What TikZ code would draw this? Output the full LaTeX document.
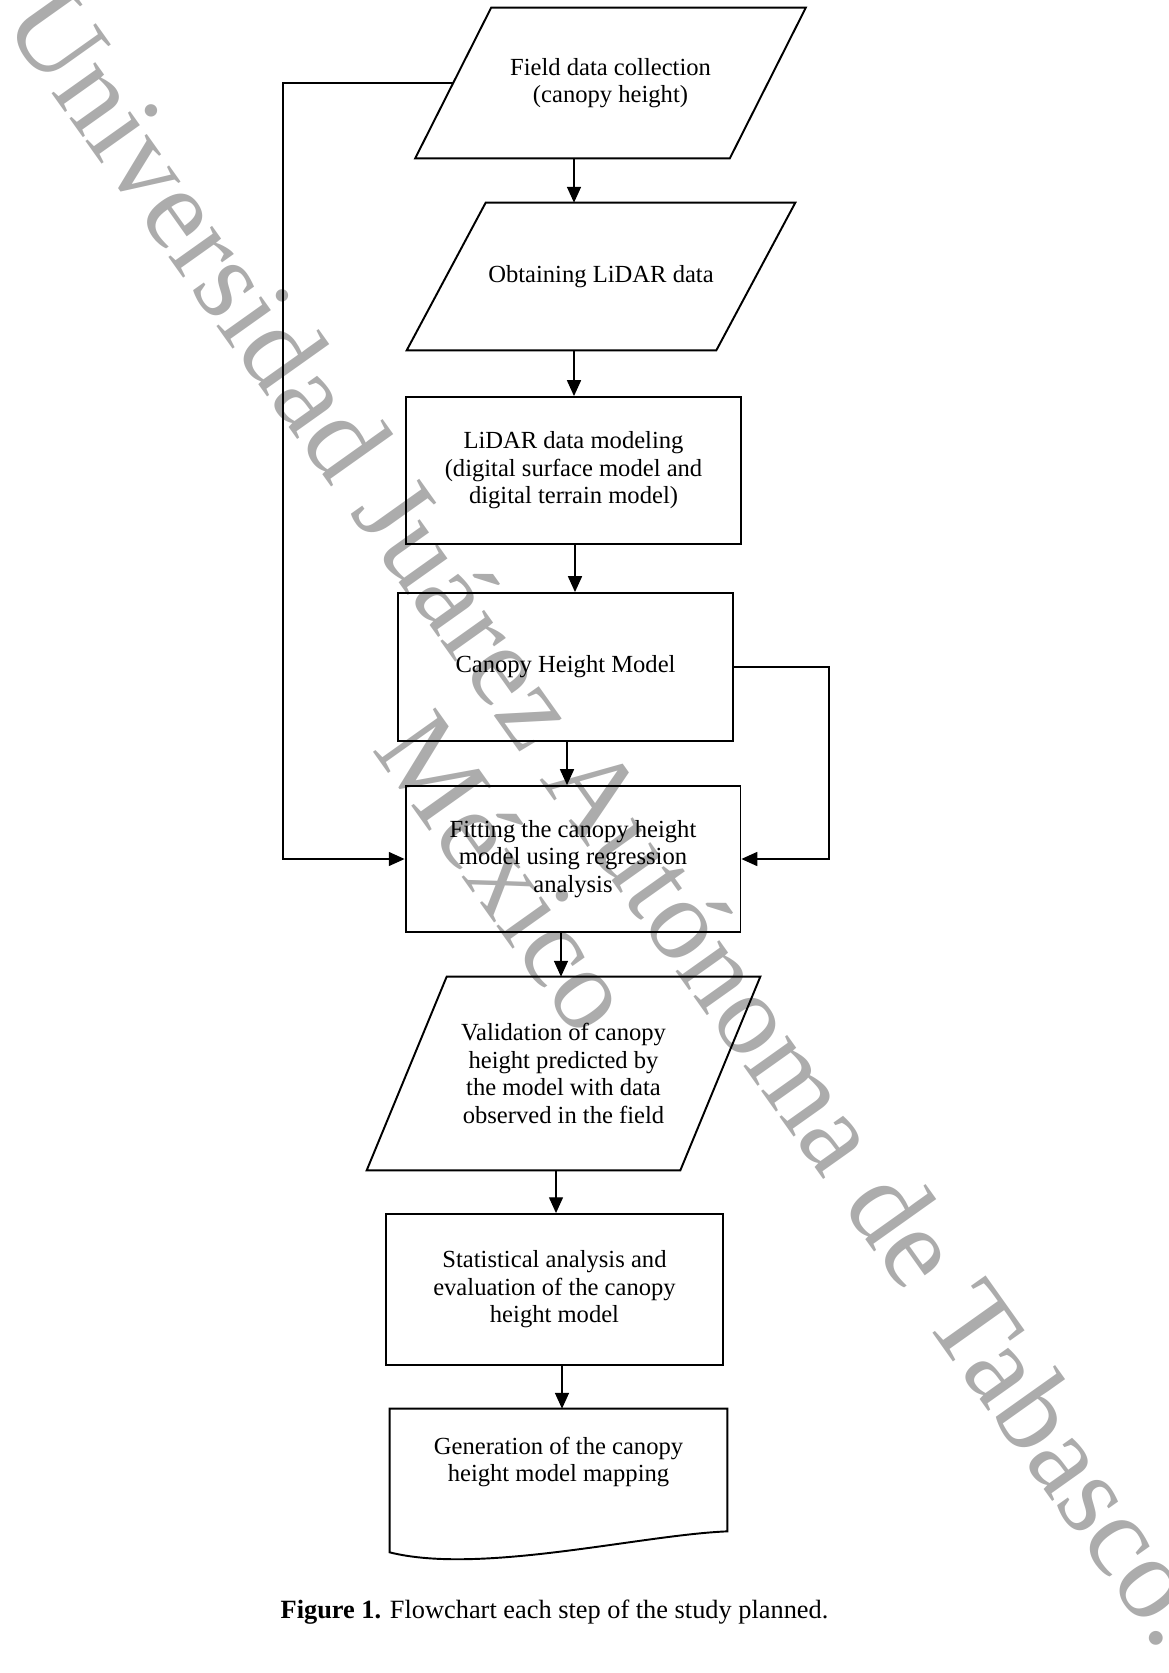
\documentclass[tikz,border=0pt]{standalone}
\usepackage{fontspec}
\setmainfont{Liberation Serif}
\usetikzlibrary{arrows.meta}
\definecolor{wmgray}{RGB}{172,172,172}

\begin{document}
\begin{tikzpicture}[x=0.02cm,y=-0.02cm,>={Triangle[length=9pt,width=8pt]},
   box/.style={line width=1.1pt},
   proc/.style={rectangle,draw,box,minimum width=6.7cm,minimum height=2.94cm,align=center,font=\fontsize{14pt}{15.7pt}\selectfont},
   iobox/.style={rectangle,align=center,font=\fontsize{14pt}{15.7pt}\selectfont},
   link/.style={->,line width=0.7pt},
   wm/.style={text=wmgray,rotate=-54.6,anchor=base,inner sep=0pt,font=\fontsize{66.5pt}{78pt}\selectfont}]
   \useasboundingbox (0,0) rectangle (1169,1673);

   % watermark behind the chart
   \node[wm] (wmark) at (581,838) {Universidad Juárez Autónoma de Tabasco.};
   \node[wm] (wcountry) at (475,895) {México};

   \node[iobox,minimum width=6.28cm,minimum height=3cm]    (field) at (610.5,83)     {Field data collection\\(canopy height)};
   \node[iobox,minimum width=6.18cm,minimum height=2.94cm] (lidar) at (601,276.5)    {Obtaining LiDAR data};
   \node[proc]                                             (dtm)   at (573.5,470.5)  {LiDAR data modeling\\(digital surface model and\\digital terrain model)};
   \node[proc,minimum height=2.96cm]                       (chm)   at (565.5,667)    {Canopy Height Model};
   \node[proc,minimum height=2.92cm]                       (fit)   at (573,859)      {Fitting the canopy height\\model using regression\\analysis};
   \node[iobox,minimum width=6.26cm,minimum height=3.86cm] (valid) at (563.5,1073.5) {Validation of canopy\\height predicted by\\the model with data\\observed in the field};
   \node[proc,minimum width=6.74cm,minimum height=3.02cm]  (stats) at (554.5,1289.5) {Statistical analysis and\\evaluation of the canopy\\height model};
   \node[iobox,minimum width=6.74cm,minimum height=2.12cm] (map)   at (558.5,1462)   {Generation of the canopy\\height model mapping};

   % data boxes
   \foreach \n/\s in {field/0.76cm,lidar/0.79cm,valid/0.8cm}
      \draw[box] ([xshift=\s]\n.north west) -- ([xshift=\s]\n.north east)
         -- ([xshift=-\s]\n.south east) -- ([xshift=-\s]\n.south west) -- cycle;

   % document box
   \draw[box] (map.north west) -- (map.north east) -- ([yshift=-0.32cm]map.south east)
      .. controls (640,1535) and (480,1575) .. ([yshift=-0.74cm]map.south west) -- cycle;

   \foreach \a/\b/\x in {field/lidar/574,lidar/dtm/574,dtm/chm/575,chm/fit/567,fit/valid/561,valid/stats/556,stats/map/562}
      \draw[link] (\a.south -| \x,0) -- (\b.north -| \x,0);

   \coordinate (lft) at (283,0);
   \coordinate (rgt) at (829,0);
   \draw[link] (field.west) -- (field.west -| lft) |- (fit.west);
   \draw[link] (chm.east) -- (chm.east -| rgt) |- (fit.east);

   \node[anchor=base,font=\fontsize{15pt}{18pt}\selectfont] (cap) at (554.5,1618)
      {\textbf{Figure 1.} Flowchart each step of the study planned.};
\end{tikzpicture}
\end{document}
